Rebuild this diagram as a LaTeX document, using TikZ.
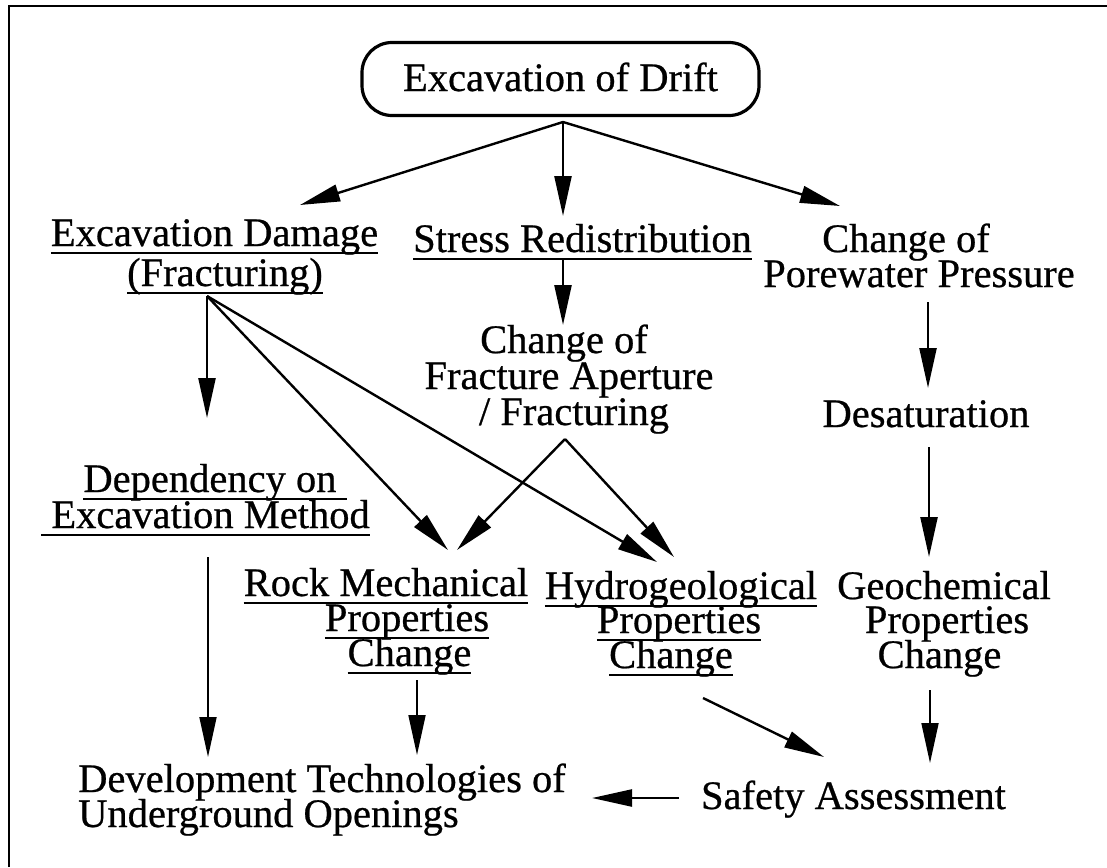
\documentclass[tikz,border=0pt]{standalone}
\usepackage{fontspec}
\setmainfont{Liberation Serif}[FakeBold=0.6]
\usetikzlibrary{arrows.meta}
\newsavebox\ulbox
\newcommand\uline[1]{\sbox\ulbox{#1}\rlap{\rule[-7.5pt]{\wd\ulbox}{1.9pt}}\usebox\ulbox}
\begin{document}
\begin{tikzpicture}[x=1pt,y=-1pt,
  txt/.style={font=\fontsize{40.5}{36}\selectfont, inner sep=0pt, anchor=base},
  ltxt/.style={txt, anchor=base west},
  arr/.style={line width=2.4pt, -{Triangle[length=40pt,width=17pt]}},
  tarr/.style={line width=1.8pt, -{Triangle[length=40pt,width=17pt]}},
  topbox/.style={draw, line width=3.2pt, rounded corners=30pt, minimum width=397pt, minimum height=73pt,
    inner sep=0pt, text height=26pt, text depth=2pt, font=\fontsize{40.5}{36}\selectfont}]
\useasboundingbox (0,0) rectangle (1107,867);
\fill[white] (0,0) rectangle (1107,867);
% cropped frame
\coordinate (fa) at (8.5,867);
\coordinate (fb) at (8.5,6);
\coordinate (fc) at (1107,6);
\draw[line width=2pt] (fa) -- (fb) -- (fc);

% nodes
\node[topbox] (top) at (560.5,79) {Excavation of Drift};
\node[txt] (dmg1) at (214.5,246) {\uline{Excavation Damage}};
\node[txt] (dmg2) at (225,286) {\uline{(Fracturing)}};
\node[txt] (str) at (582.5,252) {\uline{Stress Redistribution}};
\node[txt] (pw1) at (906,252) {Change of};
\node[txt] (pw2) at (919,287) {Porewater Pressure};
\node[txt] (fr1) at (564,353) {Change of};
\node[txt] (fr2) at (569,389) {Fracture Aperture};
\node[txt] (fr3) at (574,425) {/ Fracturing};
\node[txt] (des) at (926,427) {Desaturation};
\node[txt] (dep1) at (215,492) {\uline{Dependency on\ }};
\node[txt] (dep2) at (205.5,528) {\uline{\ Excavation Method}};
\node[txt] (rk1) at (386,596) {\uline{Rock Mechanical}};
\node[txt] (rk2) at (407,631) {\uline{Properties}};
\node[txt] (rk3) at (409.5,666) {\uline{Change}};
\node[txt] (hy1) at (681,599) {\uline{Hydrogeological}};
\node[txt] (hy2) at (679,633) {\uline{Properties}};
\node[txt] (hy3) at (671,668) {\uline{Change}};
\node[txt] (geo1) at (944,599) {Geochemical};
\node[txt] (geo2) at (947,633) {Properties};
\node[txt] (geo3) at (939.5,668) {Change};
\node[txt] (saf) at (853.5,809) {Safety Assessment};
\node[ltxt] (dev1) at (78,792) {Development Technologies of};
\node[ltxt] (dev2) at (78,827) {Underground Openings};

% connector end points
\coordinate (fan) at (563,122);
\coordinate (tDmg) at (300,205);
\coordinate (tStr) at (563,216);
\coordinate (tPw) at (840,206);
\coordinate (sDmg) at (207,296);
\coordinate (tDep) at (207,418);
\coordinate (tRkA) at (448,550);
\coordinate (tHyA) at (657,562);
\coordinate (sStr) at (563,260);
\coordinate (tFr) at (563,325);
\coordinate (sFr) at (565,439);
\coordinate (tRkB) at (457,550);
\coordinate (tHyB) at (674,557);
\coordinate (sPw) at (928,302);
\coordinate (tDes) at (928,388);
\coordinate (sDes) at (929,447);
\coordinate (tGeo) at (929,557);
\coordinate (sDep) at (208,557);
\coordinate (tDevA) at (208,757);
\coordinate (sRk) at (417,680);
\coordinate (tDevB) at (417,755);
\coordinate (sHy) at (703,698);
\coordinate (tSafA) at (824,757);
\coordinate (sGeo) at (930,690);
\coordinate (tSafB) at (930,763);
\coordinate (sSaf) at (679,798);
\coordinate (tDevC) at (592,798);

% connectors
\draw[arr] (fan) -- (tDmg);
\draw[arr] (fan) -- (tStr);
\draw[arr] (fan) -- (tPw);
\draw[arr] (sDmg) -- (tDep);
\draw[arr] (sDmg) -- (tRkA);
\draw[arr] (sDmg) -- (tHyA);
\draw[arr] (sStr) -- (tFr);
\draw[arr] (sFr) -- (tRkB);
\draw[arr] (sFr) -- (tHyB);
\draw[arr] (sPw) -- (tDes);
\draw[arr] (sDes) -- (tGeo);
\draw[tarr] (sDep) -- (tDevA);
\draw[tarr] (sRk) -- (tDevB);
\draw[arr] (sHy) -- (tSafA);
\draw[tarr] (sGeo) -- (tSafB);
\draw[arr] (sSaf) -- (tDevC);
\end{tikzpicture}
\end{document}
